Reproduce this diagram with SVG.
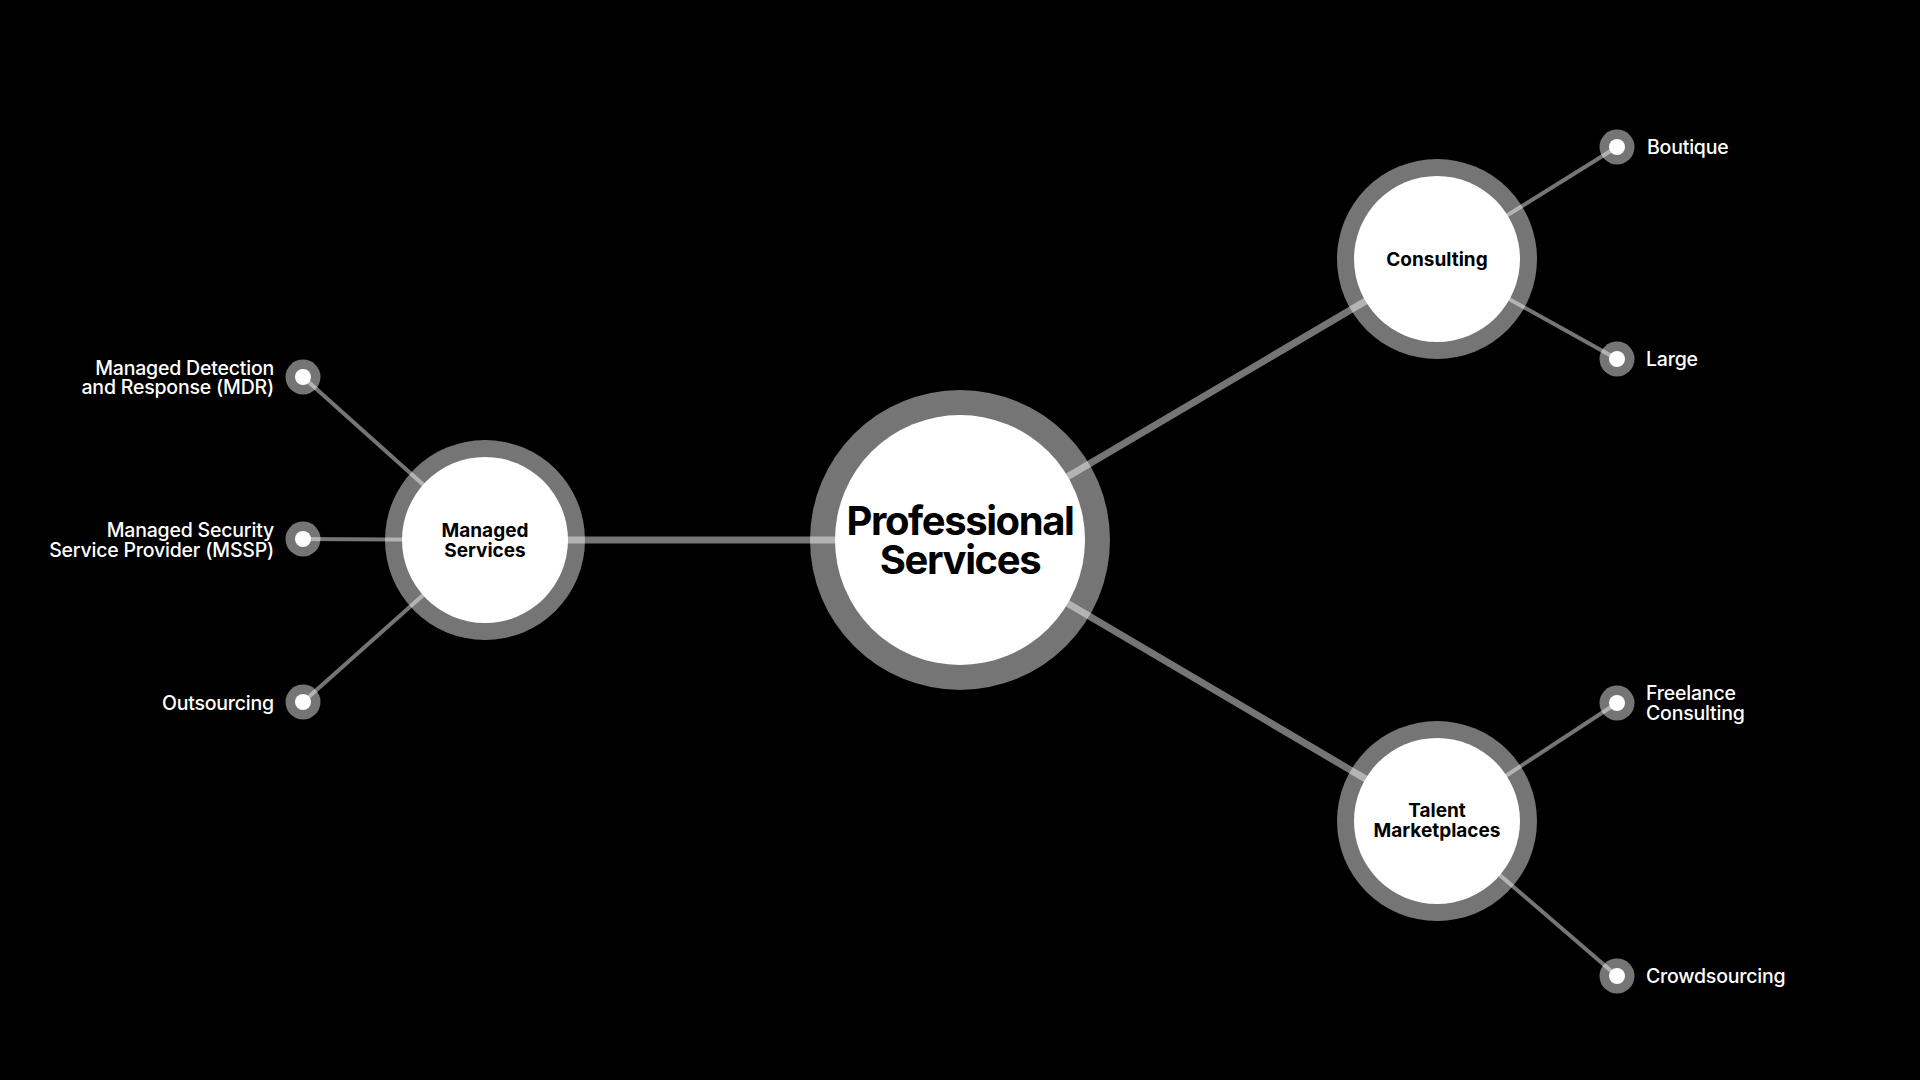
<svg xmlns="http://www.w3.org/2000/svg" width="1920" height="1080" viewBox="0 0 1920 1080">
<style>
.link{stroke:#ffffff;stroke-opacity:0.46;fill:none}
.main{stroke-width:7}
.leaf{stroke-width:4}
.ring{fill:#ffffff;fill-opacity:0.46}
.core{fill:#ffffff}
.dotc{fill:#ffffff}
.ntext{font-family:Inter,"Liberation Sans",sans-serif;font-weight:700;fill:#000000;text-anchor:middle}
.ltext{font-family:Inter,"Liberation Sans",sans-serif;font-weight:500;fill:#ffffff;font-size:19.5px;letter-spacing:-0.2px}
.lr{text-anchor:end}
</style>
<rect width="1920" height="1080" fill="#000000"/>
<g id="connectors">
<line class="link main" x1="960" y1="540" x2="485" y2="540"/>
<line class="link main" x1="960" y1="540" x2="1437" y2="259"/>
<line class="link main" x1="960" y1="540" x2="1437" y2="821"/>
<line class="link leaf" x1="485" y1="540" x2="303" y2="377"/>
<line class="link leaf" x1="485" y1="540" x2="303" y2="539"/>
<line class="link leaf" x1="485" y1="540" x2="303" y2="702"/>
<line class="link leaf" x1="1437" y1="259" x2="1617" y2="147"/>
<line class="link leaf" x1="1437" y1="259" x2="1617" y2="359"/>
<line class="link leaf" x1="1437" y1="821" x2="1617" y2="703"/>
<line class="link leaf" x1="1437" y1="821" x2="1617" y2="976"/>
</g>
<g id="professional-services">
<circle class="ring" cx="960" cy="540" r="150"/>
<circle class="core" cx="960" cy="540" r="125"/>
<text class="ntext" font-size="40" letter-spacing="-1.4"><tspan x="960" y="535">Professional</tspan><tspan x="960" y="574">Services</tspan></text>
</g>
<g id="managed-services">
<circle class="ring" cx="485" cy="540" r="100"/>
<circle class="core" cx="485" cy="540" r="83"/>
<text class="ntext" font-size="19"><tspan x="485" y="537">Managed</tspan><tspan x="485" y="557">Services</tspan></text>
</g>
<g id="consulting">
<circle class="ring" cx="1437" cy="259" r="100"/>
<circle class="core" cx="1437" cy="259" r="83"/>
<text class="ntext" font-size="19" x="1437" y="266">Consulting</text>
</g>
<g id="talent-marketplaces">
<circle class="ring" cx="1437" cy="821" r="100"/>
<circle class="core" cx="1437" cy="821" r="83"/>
<text class="ntext" font-size="19"><tspan x="1437" y="817">Talent</tspan><tspan x="1437" y="837">Marketplaces</tspan></text>
</g>
<g id="mdr">
<circle class="ring" cx="303" cy="377" r="17.5"/>
<circle class="dotc" cx="303" cy="377" r="8"/>
<text class="ltext lr"><tspan x="274" y="375">Managed Detection</tspan><tspan x="274" y="394">and Response (MDR)</tspan></text>
</g>
<g id="mssp">
<circle class="ring" cx="303" cy="539" r="17.5"/>
<circle class="dotc" cx="303" cy="539" r="8"/>
<text class="ltext lr"><tspan x="274" y="537">Managed Security</tspan><tspan x="274" y="557">Service Provider (MSSP)</tspan></text>
</g>
<g id="outsourcing">
<circle class="ring" cx="303" cy="702" r="17.5"/>
<circle class="dotc" cx="303" cy="702" r="8"/>
<text class="ltext lr" x="274" y="710">Outsourcing</text>
</g>
<g id="boutique">
<circle class="ring" cx="1617" cy="147" r="17.5"/>
<circle class="dotc" cx="1617" cy="147" r="8"/>
<text class="ltext" x="1647" y="154">Boutique</text>
</g>
<g id="large">
<circle class="ring" cx="1617" cy="359" r="17.5"/>
<circle class="dotc" cx="1617" cy="359" r="8"/>
<text class="ltext" x="1646" y="366">Large</text>
</g>
<g id="freelance-consulting">
<circle class="ring" cx="1617" cy="703" r="17.5"/>
<circle class="dotc" cx="1617" cy="703" r="8"/>
<text class="ltext"><tspan x="1646" y="700">Freelance</tspan><tspan x="1646" y="720">Consulting</tspan></text>
</g>
<g id="crowdsourcing">
<circle class="ring" cx="1617" cy="976" r="17.5"/>
<circle class="dotc" cx="1617" cy="976" r="8"/>
<text class="ltext" x="1646" y="983">Crowdsourcing</text>
</g>
</svg>
